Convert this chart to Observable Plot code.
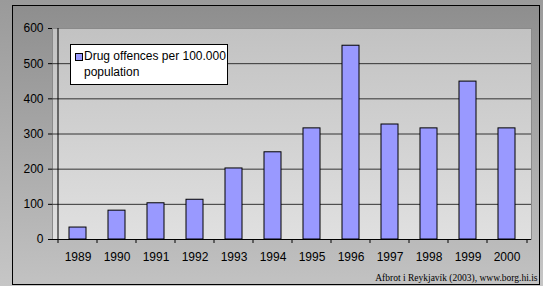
<!DOCTYPE html>
<html>
<head>
<meta charset="utf-8">
<script src="https://cdn.jsdelivr.net/npm/d3@7"></script>
<script src="https://cdn.jsdelivr.net/npm/@observablehq/plot@0.6"></script>
<style>
  html, body { margin: 0; padding: 0; }
  body { width: 543px; height: 286px; overflow: hidden; }
  #wrap { position: relative; width: 543px; height: 286px;
    background: linear-gradient(#9a9a9a, #c6c6c6); font-family: Arial, "Liberation Sans", sans-serif; }
  #box { position: absolute; left: 12px; top: 5px; width: 526px; height: 278px;
    border: 1px solid #000; background: linear-gradient(#8e8e8e, #c2c2c2); }
  #chart { position: absolute; left: 0; top: 0; }
  #legend { position: absolute; left: 70px; top: 44px; width: 156px; height: 39px;
    background: #fff; border: 1px solid #000; font-size: 12px; line-height: 16px; color: #000; }
  #legend .sw { position: absolute; left: 4px; top: 8px; width: 6px; height: 6px;
    background: #9999ff; border: 1px solid #000; }
  #legend .lbl { position: absolute; left: 13px; top: 3px; }
</style>
</head>
<body>
<div id="wrap">
  <div id="box"></div>
  <div id="chart"></div>
  <div id="legend"><div class="sw"></div><div class="lbl">Drug offences per 100.000<br>population</div></div>
</div>
<script>
const years = ["1989","1990","1991","1992","1993","1994","1995","1996","1997","1998","1999","2000"];
const values = [34, 82, 103, 113, 202, 248, 316, 551, 327, 316, 449, 316];
const yTicks = [0, 100, 200, 300, 400, 500, 600];
const gridLines = [100, 200, 300, 400, 500];
const caption = "Afbrot i Reykjavík (2003), www.borg.hi.is";

const data = years.map((y, i) => ({year: y, value: values[i]}));

const chart = Plot.plot({
  width: 543,
  height: 286,
  marginLeft: 52,
  marginRight: 12,
  marginTop: 28,
  marginBottom: 47,
  style: { background: "transparent", fontFamily: "Arial, 'Liberation Sans', sans-serif", fontSize: "12px", color: "#000" },
  x: { type: "band", domain: years, paddingInner: 0.57, paddingOuter: 0.285, align: 0.5 },
  y: { domain: [0, 600] },
  marks: [
    Plot.frame({ fill: "url(#plotgrad)", stroke: "#8a8a8a" }),
    Plot.ruleY(gridLines, { stroke: "#333", strokeWidth: 1 }),
    Plot.barY(data, { x: "year", y: "value", fill: "#9999ff", stroke: "#000", strokeWidth: 1 }),
    Plot.ruleY([0], { stroke: "#000" }),
    Plot.ruleX([years[0]], { y1: 0, y2: 600, dx: -20, stroke: "#000" }),
    Plot.axisY({ ticks: yTicks, tickSize: 4, tickPadding: 5, fontSize: 12, label: null, stroke: "#000" }),
    Plot.axisX({ tickSize: 4, tickFormat: () => "", dx: -20, label: null, stroke: "#000" }),
    Plot.axisX([years[years.length - 1]], { tickSize: 4, tickFormat: () => "", dx: 20, label: null, stroke: "#000" }),
    Plot.axisX({ tickSize: 0, tickPadding: 13, fontSize: 12, label: null }),
    Plot.text([caption], { text: d => d, frameAnchor: "bottom-right", textAnchor: "end", dx: 6, dy: 41,
      fontFamily: "'Times New Roman', 'Liberation Serif', serif", fontSize: 9.5, fill: "#000" })
  ]
});

d3.select(chart).insert("defs", ":first-child").html(
  '<linearGradient id="plotgrad" x1="0" y1="0" x2="0" y2="1">' +
  '<stop offset="0" stop-color="#c2c2c2"/><stop offset="1" stop-color="#e0e0e0"/></linearGradient>'
);

document.getElementById("chart").appendChild(chart);
</script>
</body>
</html>
